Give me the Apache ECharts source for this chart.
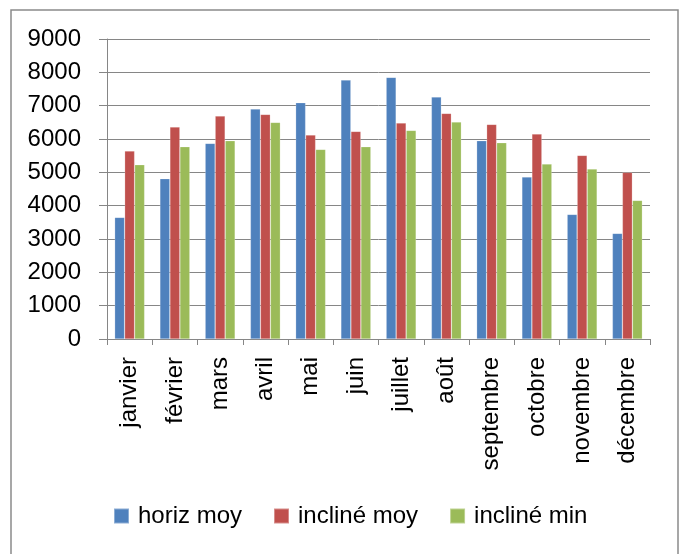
<!DOCTYPE html>
<html>
<head>
<meta charset="utf-8">
<script src="https://cdn.jsdelivr.net/npm/echarts@6/dist/echarts.min.js"></script>
<style>
  html, body { margin: 0; padding: 0; background: #fff; }
  #chart { width: 680px; height: 554px; }
</style>
</head>
<body>
<div id="chart"></div>
<script>
// Monthly irradiation values per orientation
const months = ['janvier', 'février', 'mars', 'avril', 'mai', 'juin',
                'juillet', 'août', 'septembre', 'octobre', 'novembre', 'décembre'];
const horizMoy   = [3650, 4810, 5870, 6900, 7090, 7770, 7850, 7260, 5950, 4860, 3740, 3170];
const inclineMoy = [5640, 6360, 6690, 6740, 6120, 6230, 6480, 6770, 6440, 6150, 5510, 5000];
const inclineMin = [5230, 5770, 5950, 6500, 5690, 5770, 6260, 6510, 5890, 5250, 5100, 4160];
const seriesNames = ['horiz moy', 'incliné moy', 'incliné min'];
const colors = ['#4F81BD', '#C0504D', '#9BBB59'];

const FONT = 'Liberation Sans';
const chart = echarts.init(document.getElementById('chart'), null, { renderer: 'canvas' });

function barSeries(name, data, color) {
  return {
    name: name,
    type: 'bar',
    data: data,
    barWidth: 10,
    barGap: '0%',
    itemStyle: { color: color, borderColor: 'rgba(255,255,255,0.35)', borderWidth: 0.6 },
    emphasis: { disabled: true }
  };
}

chart.setOption({
  animation: false,
  textStyle: { fontFamily: FONT },
  color: colors,
  grid: { left: 107, right: 30, top: 39, bottom: 215, containLabel: false },
  graphic: [{
    type: 'rect',
    shape: { x: 11, y: 10, width: 667, height: 560 },
    style: { fill: 'none', stroke: '#8a8a8a', lineWidth: 1.5 },
    silent: true
  }],
  legend: {
    data: seriesNames,
    left: 113,
    top: 504,
    padding: 0,
    itemWidth: 15,
    itemHeight: 15,
    itemGap: 31,
    icon: 'rect',
    textStyle: { fontFamily: FONT, fontSize: 24, color: '#000', padding: [0, 0, 0, 4] },
    selectedMode: false
  },
  xAxis: {
    type: 'category',
    data: months,
    axisLine: { lineStyle: { color: '#868686', width: 1 } },
    axisTick: { show: true, alignWithLabel: false, length: 6, lineStyle: { color: '#868686' } },
    axisLabel: {
      rotate: 90,
      margin: 18,
      interval: 0,
      fontFamily: FONT,
      fontSize: 24,
      color: '#000'
    },
    splitLine: { show: false }
  },
  yAxis: {
    type: 'value',
    min: 0,
    max: 9000,
    interval: 1000,
    axisLine: { show: true, lineStyle: { color: '#868686', width: 1 } },
    axisTick: { show: true, length: 8, lineStyle: { color: '#868686' } },
    axisLabel: {
      margin: 26,
      fontFamily: FONT,
      fontSize: 24,
      color: '#000',
      formatter: function (v) { return String(v); }
    },
    splitLine: { show: true, lineStyle: { color: '#868686', width: 1 } }
  },
  series: [
    barSeries(seriesNames[0], horizMoy, colors[0]),
    barSeries(seriesNames[1], inclineMoy, colors[1]),
    barSeries(seriesNames[2], inclineMin, colors[2])
  ]
});
</script>
</body>
</html>
